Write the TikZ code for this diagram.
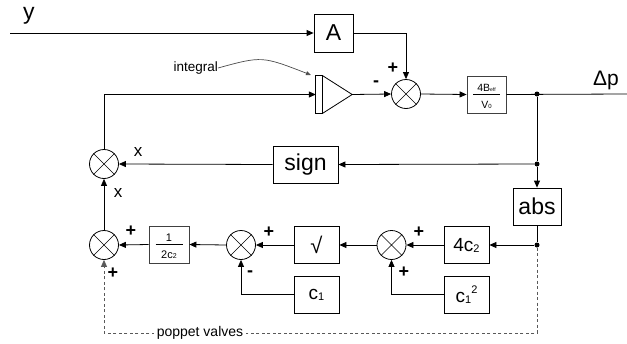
\documentclass[tikz,border=0pt]{standalone}
\usepackage{fontspec}
\setmainfont{Liberation Sans}
\usetikzlibrary{arrows.meta,calc}
\newcommand{\fsz}[1]{\fontsize{#1}{#1}\selectfont}
\begin{document}
\begin{tikzpicture}[x=1pt,y=-1pt,
  arr/.style={-{Triangle[length=7pt,width=6pt]}},
  line/.style={line width=0.8pt},
  blk/.style={draw,line width=0.8pt,minimum width=45pt,minimum height=37pt,inner sep=0pt,font=\fsz{23}},
  fblk/.style={draw=black!75,line width=0.8pt,minimum width=40pt,minimum height=37pt,inner sep=0pt},
  mult/.style={draw,circle,line width=0.8pt,minimum size=29pt,inner sep=0pt},
  sgn/.style={font=\fsz{18}\bfseries,inner sep=0pt},
  xl/.style={font=\fsz{17},inner sep=0pt},
  dot/.style={circle,fill,inner sep=0pt,minimum size=5pt}]
\useasboundingbox (0,0) rectangle (627,343);

% blocks
\node[blk,minimum width=39pt,minimum height=38pt] (A) at (333.5,33) {A};
\node[fblk,minimum width=39pt] (B) at (486.5,94.5) {};
\node[blk,minimum width=65pt] (sign) at (305.5,164.5) {sign};
\node[blk,minimum width=48pt] (abs) at (537,206.5) {abs};
\node[blk] (c42) at (466.5,245) {\fsz{19}4c\raisebox{-1pt}{\fsz{11}2}};
\node[blk] (c1sq) at (466.5,294.5) {\fsz{19}c\raisebox{-1pt}{\fsz{11}1}\raisebox{9pt}{\fsz{11}2}};
\node[blk] (sq) at (316.5,245) {\fsz{22}√};
\node[blk] (c1) at (316.5,294.5) {\fsz{19}c\raisebox{-1pt}{\fsz{11}1}};
\node[fblk] (fr) at (169,244.5) {};

% fraction contents
\draw[line width=0.6pt] ($(B.center)+(-13.5,0)$) -- ($(B.center)+(13.5,0)$);
\node[inner sep=0pt,anchor=base] (Bn) at ($(B.center)+(0,-3.5)$) {\fsz{10.5}4B\raisebox{-0.5pt}{\fsz{5}eff}};
\node[inner sep=0pt,anchor=base] (Bd) at ($(B.center)+(0,13.5)$) {\fsz{10.5}V\raisebox{-0.5pt}{\fsz{6}0}};
\draw[line width=0.6pt] ($(fr.center)+(-13.5,0)$) -- ($(fr.center)+(13.5,0)$);
\node[inner sep=0pt,anchor=base] (fn) at ($(fr.center)+(0,-3.5)$) {\fsz{11}1};
\node[inner sep=0pt,anchor=base] (fd) at ($(fr.center)+(0,13.5)$) {\fsz{11}2c\raisebox{-0.5pt}{\fsz{7}2}};

% multipliers
\node[mult] (m1) at (406,94) {};
\node[mult] (mA) at (104,164) {};
\node[mult] (mB) at (104,245) {};
\node[mult] (mM) at (241,245) {};
\node[mult] (mR) at (391.5,245) {};
\foreach \m in {m1,mA,mB,mM,mR}{
  \draw[line width=0.6pt] (\m.north east) -- (\m.south west) (\m.north west) -- (\m.south east);
}

% integrator
\node[minimum width=36pt,minimum height=37pt,inner sep=0pt] (integ) at (334,94.5) {};
\draw[line width=0.8pt] (integ.north west) rectangle ($(integ.south west)+(7,0)$);
\draw[line width=0.8pt] ($(integ.north west)+(7,0)$) -- (integ.east) -- ($(integ.south west)+(7,0)$);

% coordinates
\coordinate (yin) at (10,33);
\coordinate (out) at (627,94);
\node[dot] (d1) at (537,94) {};
\node[dot] (d2) at (537,164) {};
\node[dot] (d3) at (537,245) {};
\coordinate (dl) at (537,333);

% connectors
\draw[line,arr] (yin) -- (A.west);
\draw[line,arr] (A.east) -| (m1.north);
\draw[line,arr] (integ.east) -- (m1.west);
\draw[line,arr] (m1.east) -- (B.west);
\draw[line] (B.east) -- (out);
\draw[line] (d1) -- (d2);
\draw[line,arr] (d2) -- (abs.north);
\draw[line,arr] (d2) -- (sign.east);
\draw[line,arr] (sign.west) -- (mA.east);
\draw[line,arr] (mA.north) |- (integ.west);
\draw[line,arr] (mB.north) -- (mA.south);
\draw[line] (abs.south) -- (d3);
\draw[line,arr] (d3) -- (c42.east);
\draw[line,arr] (c42.west) -- (mR.east);
\draw[line,arr] (mR.west) -- (sq.east);
\draw[line,arr] (sq.west) -- (mM.east);
\draw[line,arr] (mM.west) -- (fr.east);
\draw[line,arr] (fr.west) -- (mB.east);
\draw[line,arr] (c1sq.west) -| (mR.south);
\draw[line,arr] (c1.west) -| (mM.south);
\draw[line width=0.8pt,black!65,dash pattern=on 3pt off 2.5pt,arr] (d3) -- (dl) -| (mB.south);
\node[fill=white,inner xsep=3pt,inner ysep=1pt,font=\fsz{14}] (pv) at (200,333) {poppet valves};

% integral annotation
\node[anchor=east,inner sep=0pt,font=\fsz{13.5}] (intl) at (218,68) {integral};
\draw[line width=0.7pt,black!70,-{Triangle[length=5pt,width=4pt]}] (intl.east) .. controls (262,56) .. (311,75);

% text labels
\node[inner sep=0pt,font=\fsz{23}] (ylab) at (29,16) {y};
\node[inner sep=0pt,font=\fsz{21}] (dp) at (606,80) {Δp};
\node[sgn] (p1) at (393,68) {+};
\node[sgn] (n1) at (376,84) {-};
\node[xl] (x1) at (138,152) {x};
\node[xl] (x2) at (118,193) {x};
\node[sgn] (p2) at (131,231) {+};
\node[sgn] (p3) at (113,273) {+};
\node[sgn] (p4) at (269,232) {+};
\node[sgn] (n2) at (250,274) {-};
\node[sgn] (p5) at (419,232) {+};
\node[sgn] (p6) at (404,272) {+};
\end{tikzpicture}
\end{document}
